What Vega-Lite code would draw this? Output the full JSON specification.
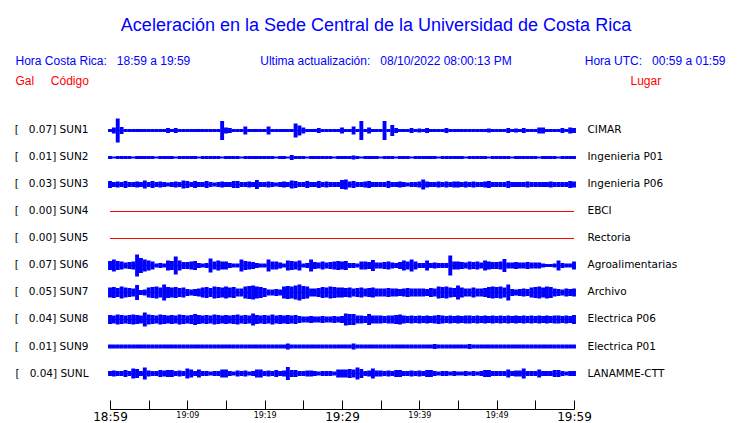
{
  "$schema": "https://vega.github.io/schema/vega-lite/v6.json",
  "width": 464,
  "height": 315,
  "autosize": {"type": "none"},
  "padding": {"left": 110, "top": 94, "right": 166, "bottom": 14},
  "background": "white",
  "config": {"view": {"stroke": null}, "font": "DejaVu Sans", "axis": {"grid": false}},
  "title": {
    "text": "Aceleración en la Sede Central de la Universidad de Costa Rica",
    "subtitle": "\u200b\u00a0\u00a0\u00a0\u00a0\u00a0\u00a0Ultima actualización:\u00a0\u00a0\u00a008/10/2022 08:00:13 PM",
    "anchor": "middle",
    "frame": "group",
    "dx": 34,
    "offset": -13,
    "font": "Liberation Sans",
    "fontSize": 18,
    "fontWeight": "normal",
    "color": "#0000ff",
    "subtitleFont": "Liberation Sans",
    "subtitleFontSize": 12,
    "subtitleColor": "#0000ff",
    "subtitlePadding": 21
  },
  "datasets": {
    "est": [
      {"s": "SUN1", "L": "[\u00a0\u00a0\u00a00.07] SUN1", "P": "CIMAR"},
      {"s": "SUN2", "L": "[\u00a0\u00a0\u00a00.01] SUN2", "P": "Ingenieria P01"},
      {"s": "SUN3", "L": "[\u00a0\u00a0\u00a00.03] SUN3", "P": "Ingenieria P06"},
      {"s": "SUN4", "L": "[\u00a0\u00a0\u00a00.00] SUN4", "P": "EBCI"},
      {"s": "SUN5", "L": "[\u00a0\u00a0\u00a00.00] SUN5", "P": "Rectoria"},
      {"s": "SUN6", "L": "[\u00a0\u00a0\u00a00.07] SUN6", "P": "Agroalimentarias"},
      {"s": "SUN7", "L": "[\u00a0\u00a0\u00a00.05] SUN7", "P": "Archivo"},
      {"s": "SUN8", "L": "[\u00a0\u00a0\u00a00.04] SUN8", "P": "Electrica P06"},
      {"s": "SUN9", "L": "[\u00a0\u00a0\u00a00.01] SUN9", "P": "Electrica P01"},
      {"s": "SUNL", "L": "[\u00a0\u00a0\u00a00.04] SUNL", "P": "LANAMME-CTT"}
    ]
  },
  "data": {
    "values": [
      {"t":0,"SUN1":3,"SUN2":3,"SUN3":7,"SUN6":9,"SUN7":10,"SUN8":9,"SUN9":4,"SUNL":5},
      {"t":0.5,"SUN1":6,"SUN2":2,"SUN3":5,"SUN6":12,"SUN7":11,"SUN8":8,"SUN9":4,"SUNL":6},
      {"t":1,"SUN1":24,"SUN2":3,"SUN3":6,"SUN6":9,"SUN7":9,"SUN8":10,"SUN9":4,"SUNL":5},
      {"t":1.5,"SUN1":7,"SUN2":3,"SUN3":5,"SUN6":8,"SUN7":12,"SUN8":9,"SUN9":4,"SUNL":5},
      {"t":2,"SUN1":3,"SUN2":3,"SUN3":7,"SUN6":6,"SUN7":10,"SUN8":8,"SUN9":4,"SUNL":7},
      {"t":2.5,"SUN1":3,"SUN2":3,"SUN3":5,"SUN6":7,"SUN7":9,"SUN8":9,"SUN9":4,"SUNL":5},
      {"t":3,"SUN1":3,"SUN2":2,"SUN3":5,"SUN6":8,"SUN7":8,"SUN8":10,"SUN9":4,"SUNL":10},
      {"t":3.5,"SUN1":3,"SUN2":3,"SUN3":6,"SUN6":22,"SUN7":15,"SUN8":9,"SUN9":4,"SUNL":9},
      {"t":4,"SUN1":3,"SUN2":3,"SUN3":5,"SUN6":15,"SUN7":5,"SUN8":8,"SUN9":4,"SUNL":5},
      {"t":4.5,"SUN1":3,"SUN2":3,"SUN3":8,"SUN6":12,"SUN7":6,"SUN8":14,"SUN9":4,"SUNL":12},
      {"t":5,"SUN1":3,"SUN2":3,"SUN3":5,"SUN6":10,"SUN7":10,"SUN8":10,"SUN9":4,"SUNL":6},
      {"t":5.5,"SUN1":3,"SUN2":3,"SUN3":7,"SUN6":8,"SUN7":11,"SUN8":9,"SUN9":4,"SUNL":5},
      {"t":6,"SUN1":3,"SUN2":2,"SUN3":5,"SUN6":4,"SUN7":12,"SUN8":8,"SUN9":4,"SUNL":5},
      {"t":6.5,"SUN1":3,"SUN2":3,"SUN3":6,"SUN6":5,"SUN7":10,"SUN8":10,"SUN9":4,"SUNL":7},
      {"t":7,"SUN1":3,"SUN2":3,"SUN3":5,"SUN6":4,"SUN7":16,"SUN8":9,"SUN9":4,"SUNL":6},
      {"t":7.5,"SUN1":5,"SUN2":3,"SUN3":4,"SUN6":10,"SUN7":11,"SUN8":8,"SUN9":4,"SUNL":7},
      {"t":8,"SUN1":3,"SUN2":3,"SUN3":5,"SUN6":9,"SUN7":10,"SUN8":9,"SUN9":4,"SUNL":7},
      {"t":8.5,"SUN1":5,"SUN2":2,"SUN3":6,"SUN6":18,"SUN7":11,"SUN8":8,"SUN9":4,"SUNL":5},
      {"t":9,"SUN1":3,"SUN2":3,"SUN3":5,"SUN6":10,"SUN7":9,"SUN8":10,"SUN9":4,"SUNL":6},
      {"t":9.5,"SUN1":3,"SUN2":3,"SUN3":8,"SUN6":7,"SUN7":10,"SUN8":9,"SUN9":4,"SUNL":5},
      {"t":10,"SUN1":3,"SUN2":3,"SUN3":7,"SUN6":7,"SUN7":7,"SUN8":8,"SUN9":4,"SUNL":10},
      {"t":10.5,"SUN1":3,"SUN2":3,"SUN3":5,"SUN6":8,"SUN7":6,"SUN8":9,"SUN9":4,"SUNL":8},
      {"t":11,"SUN1":3,"SUN2":3,"SUN3":7,"SUN6":9,"SUN7":7,"SUN8":11,"SUN9":4,"SUNL":5},
      {"t":11.5,"SUN1":3,"SUN2":2,"SUN3":5,"SUN6":5,"SUN7":8,"SUN8":9,"SUN9":4,"SUNL":8},
      {"t":12,"SUN1":3,"SUN2":3,"SUN3":5,"SUN6":4,"SUN7":10,"SUN8":8,"SUN9":4,"SUNL":5},
      {"t":12.5,"SUN1":3,"SUN2":3,"SUN3":7,"SUN6":5,"SUN7":11,"SUN8":9,"SUN9":4,"SUNL":5},
      {"t":13,"SUN1":3,"SUN2":3,"SUN3":5,"SUN6":14,"SUN7":9,"SUN8":8,"SUN9":4,"SUNL":4},
      {"t":13.5,"SUN1":3,"SUN2":3,"SUN3":4,"SUN6":8,"SUN7":12,"SUN8":10,"SUN9":4,"SUNL":5},
      {"t":14,"SUN1":3,"SUN2":3,"SUN3":5,"SUN6":10,"SUN7":11,"SUN8":9,"SUN9":4,"SUNL":5},
      {"t":14.5,"SUN1":19,"SUN2":2,"SUN3":6,"SUN6":8,"SUN7":10,"SUN8":8,"SUN9":4,"SUNL":8},
      {"t":15,"SUN1":6,"SUN2":3,"SUN3":5,"SUN6":8,"SUN7":12,"SUN8":9,"SUN9":4,"SUNL":8},
      {"t":15.5,"SUN1":5,"SUN2":3,"SUN3":5,"SUN6":5,"SUN7":10,"SUN8":8,"SUN9":4,"SUNL":5},
      {"t":16,"SUN1":3,"SUN2":3,"SUN3":7,"SUN6":4,"SUN7":11,"SUN8":9,"SUN9":4,"SUNL":4},
      {"t":16.5,"SUN1":3,"SUN2":3,"SUN3":7,"SUN6":4,"SUN7":8,"SUN8":10,"SUN9":4,"SUNL":6},
      {"t":17,"SUN1":3,"SUN2":2,"SUN3":5,"SUN6":12,"SUN7":8,"SUN8":8,"SUN9":4,"SUNL":5},
      {"t":17.5,"SUN1":8,"SUN2":3,"SUN3":5,"SUN6":9,"SUN7":12,"SUN8":9,"SUN9":4,"SUNL":6},
      {"t":18,"SUN1":3,"SUN2":3,"SUN3":6,"SUN6":8,"SUN7":13,"SUN8":8,"SUN9":4,"SUNL":4},
      {"t":18.5,"SUN1":3,"SUN2":3,"SUN3":5,"SUN6":7,"SUN7":14,"SUN8":12,"SUN9":4,"SUNL":5},
      {"t":19,"SUN1":3,"SUN2":3,"SUN3":9,"SUN6":5,"SUN7":12,"SUN8":9,"SUN9":4,"SUNL":8},
      {"t":19.5,"SUN1":3,"SUN2":3,"SUN3":5,"SUN6":4,"SUN7":11,"SUN8":8,"SUN9":4,"SUNL":8},
      {"t":20,"SUN1":3,"SUN2":3,"SUN3":5,"SUN6":4,"SUN7":9,"SUN8":9,"SUN9":4,"SUNL":5},
      {"t":20.5,"SUN1":8,"SUN2":3,"SUN3":6,"SUN6":12,"SUN7":6,"SUN8":8,"SUN9":4,"SUNL":6},
      {"t":21,"SUN1":3,"SUN2":3,"SUN3":5,"SUN6":8,"SUN7":6,"SUN8":10,"SUN9":4,"SUNL":5},
      {"t":21.5,"SUN1":3,"SUN2":2,"SUN3":4,"SUN6":8,"SUN7":7,"SUN8":8,"SUN9":4,"SUNL":7},
      {"t":22,"SUN1":3,"SUN2":3,"SUN3":5,"SUN6":6,"SUN7":6,"SUN8":9,"SUN9":4,"SUNL":5},
      {"t":22.5,"SUN1":3,"SUN2":3,"SUN3":6,"SUN6":4,"SUN7":12,"SUN8":8,"SUN9":4,"SUNL":6},
      {"t":23,"SUN1":3,"SUN2":2,"SUN3":5,"SUN6":10,"SUN7":13,"SUN8":9,"SUN9":6,"SUNL":13},
      {"t":23.5,"SUN1":3,"SUN2":5,"SUN3":8,"SUN6":9,"SUN7":12,"SUN8":8,"SUN9":4,"SUNL":7},
      {"t":24,"SUN1":14,"SUN2":3,"SUN3":7,"SUN6":8,"SUN7":14,"SUN8":9,"SUN9":4,"SUNL":7},
      {"t":24.5,"SUN1":10,"SUN2":3,"SUN3":5,"SUN6":10,"SUN7":16,"SUN8":7,"SUN9":4,"SUNL":5},
      {"t":25,"SUN1":6,"SUN2":3,"SUN3":5,"SUN6":4,"SUN7":13,"SUN8":6,"SUN9":4,"SUNL":5},
      {"t":25.5,"SUN1":3,"SUN2":2,"SUN3":7,"SUN6":5,"SUN7":12,"SUN8":6,"SUN9":4,"SUNL":6},
      {"t":26,"SUN1":3,"SUN2":3,"SUN3":5,"SUN6":12,"SUN7":8,"SUN8":7,"SUN9":4,"SUNL":6},
      {"t":26.5,"SUN1":3,"SUN2":3,"SUN3":5,"SUN6":7,"SUN7":8,"SUN8":6,"SUN9":4,"SUNL":5},
      {"t":27,"SUN1":5,"SUN2":3,"SUN3":7,"SUN6":6,"SUN7":9,"SUN8":6,"SUN9":4,"SUNL":4},
      {"t":27.5,"SUN1":3,"SUN2":3,"SUN3":5,"SUN6":8,"SUN7":11,"SUN8":7,"SUN9":4,"SUNL":5},
      {"t":28,"SUN1":3,"SUN2":3,"SUN3":6,"SUN6":6,"SUN7":10,"SUN8":6,"SUN9":4,"SUNL":5},
      {"t":28.5,"SUN1":3,"SUN2":3,"SUN3":5,"SUN6":7,"SUN7":12,"SUN8":6,"SUN9":4,"SUNL":5},
      {"t":29,"SUN1":3,"SUN2":2,"SUN3":5,"SUN6":8,"SUN7":11,"SUN8":7,"SUN9":4,"SUNL":4},
      {"t":29.5,"SUN1":3,"SUN2":3,"SUN3":5,"SUN6":9,"SUN7":10,"SUN8":6,"SUN9":4,"SUNL":8},
      {"t":30,"SUN1":6,"SUN2":3,"SUN3":9,"SUN6":8,"SUN7":10,"SUN8":7,"SUN9":4,"SUNL":8},
      {"t":30.5,"SUN1":3,"SUN2":3,"SUN3":10,"SUN6":9,"SUN7":9,"SUN8":12,"SUN9":4,"SUNL":8},
      {"t":31,"SUN1":3,"SUN2":3,"SUN3":6,"SUN6":5,"SUN7":10,"SUN8":11,"SUN9":4,"SUNL":9},
      {"t":31.5,"SUN1":8,"SUN2":4,"SUN3":7,"SUN6":5,"SUN7":8,"SUN8":11,"SUN9":6,"SUNL":8},
      {"t":32,"SUN1":3,"SUN2":3,"SUN3":5,"SUN6":4,"SUN7":9,"SUN8":8,"SUN9":4,"SUNL":12},
      {"t":32.5,"SUN1":19,"SUN2":2,"SUN3":5,"SUN6":8,"SUN7":10,"SUN8":8,"SUN9":4,"SUNL":9},
      {"t":33,"SUN1":3,"SUN2":3,"SUN3":6,"SUN6":8,"SUN7":8,"SUN8":7,"SUN9":4,"SUNL":5},
      {"t":33.5,"SUN1":6,"SUN2":3,"SUN3":7,"SUN6":7,"SUN7":9,"SUN8":11,"SUN9":4,"SUNL":6},
      {"t":34,"SUN1":3,"SUN2":3,"SUN3":5,"SUN6":11,"SUN7":10,"SUN8":8,"SUN9":4,"SUNL":10},
      {"t":34.5,"SUN1":3,"SUN2":3,"SUN3":5,"SUN6":6,"SUN7":8,"SUN8":8,"SUN9":4,"SUNL":6},
      {"t":35,"SUN1":3,"SUN2":2,"SUN3":5,"SUN6":6,"SUN7":8,"SUN8":8,"SUN9":4,"SUNL":6},
      {"t":35.5,"SUN1":19,"SUN2":3,"SUN3":5,"SUN6":7,"SUN7":8,"SUN8":7,"SUN9":4,"SUNL":5},
      {"t":36,"SUN1":3,"SUN2":3,"SUN3":7,"SUN6":8,"SUN7":9,"SUN8":8,"SUN9":4,"SUNL":6},
      {"t":36.5,"SUN1":11,"SUN2":3,"SUN3":5,"SUN6":6,"SUN7":8,"SUN8":8,"SUN9":4,"SUNL":5},
      {"t":37,"SUN1":5,"SUN2":2,"SUN3":5,"SUN6":5,"SUN7":8,"SUN8":9,"SUN9":4,"SUNL":7},
      {"t":37.5,"SUN1":3,"SUN2":3,"SUN3":6,"SUN6":7,"SUN7":7,"SUN8":10,"SUN9":4,"SUNL":7},
      {"t":38,"SUN1":3,"SUN2":3,"SUN3":5,"SUN6":10,"SUN7":8,"SUN8":8,"SUN9":4,"SUNL":5},
      {"t":38.5,"SUN1":3,"SUN2":3,"SUN3":4,"SUN6":8,"SUN7":9,"SUN8":7,"SUN9":4,"SUNL":5},
      {"t":39,"SUN1":5,"SUN2":2,"SUN3":5,"SUN6":12,"SUN7":8,"SUN8":8,"SUN9":4,"SUNL":6},
      {"t":39.5,"SUN1":3,"SUN2":3,"SUN3":5,"SUN6":8,"SUN7":8,"SUN8":7,"SUN9":4,"SUNL":5},
      {"t":40,"SUN1":4,"SUN2":3,"SUN3":6,"SUN6":5,"SUN7":8,"SUN8":8,"SUN9":4,"SUNL":6},
      {"t":40.5,"SUN1":3,"SUN2":3,"SUN3":10,"SUN6":5,"SUN7":8,"SUN8":7,"SUN9":4,"SUNL":5},
      {"t":41,"SUN1":5,"SUN2":3,"SUN3":6,"SUN6":10,"SUN7":7,"SUN8":8,"SUN9":4,"SUNL":7},
      {"t":41.5,"SUN1":3,"SUN2":3,"SUN3":5,"SUN6":5,"SUN7":9,"SUN8":7,"SUN9":4,"SUNL":7},
      {"t":42,"SUN1":3,"SUN2":3,"SUN3":5,"SUN6":6,"SUN7":8,"SUN8":8,"SUN9":5,"SUNL":5},
      {"t":42.5,"SUN1":3,"SUN2":2,"SUN3":6,"SUN6":5,"SUN7":12,"SUN8":9,"SUN9":4,"SUNL":4},
      {"t":43,"SUN1":3,"SUN2":3,"SUN3":5,"SUN6":5,"SUN7":11,"SUN8":8,"SUN9":4,"SUNL":5},
      {"t":43.5,"SUN1":5,"SUN2":3,"SUN3":6,"SUN6":5,"SUN7":12,"SUN8":7,"SUN9":4,"SUNL":5},
      {"t":44,"SUN1":3,"SUN2":3,"SUN3":5,"SUN6":20,"SUN7":10,"SUN8":8,"SUN9":4,"SUNL":4},
      {"t":44.5,"SUN1":3,"SUN2":3,"SUN3":6,"SUN6":8,"SUN7":9,"SUN8":7,"SUN9":4,"SUNL":5},
      {"t":45,"SUN1":3,"SUN2":3,"SUN3":6,"SUN6":8,"SUN7":14,"SUN8":8,"SUN9":4,"SUNL":4},
      {"t":45.5,"SUN1":3,"SUN2":3,"SUN3":5,"SUN6":7,"SUN7":10,"SUN8":7,"SUN9":4,"SUNL":4},
      {"t":46,"SUN1":3,"SUN2":2,"SUN3":6,"SUN6":6,"SUN7":8,"SUN8":8,"SUN9":4,"SUNL":5},
      {"t":46.5,"SUN1":3,"SUN2":3,"SUN3":5,"SUN6":8,"SUN7":8,"SUN8":8,"SUN9":5,"SUNL":4},
      {"t":47,"SUN1":3,"SUN2":3,"SUN3":6,"SUN6":7,"SUN7":10,"SUN8":7,"SUN9":4,"SUNL":5},
      {"t":47.5,"SUN1":3,"SUN2":3,"SUN3":5,"SUN6":8,"SUN7":8,"SUN8":8,"SUN9":4,"SUNL":4},
      {"t":48,"SUN1":3,"SUN2":3,"SUN3":5,"SUN6":6,"SUN7":8,"SUN8":7,"SUN9":4,"SUNL":5},
      {"t":48.5,"SUN1":3,"SUN2":3,"SUN3":6,"SUN6":10,"SUN7":9,"SUN8":8,"SUN9":4,"SUNL":7},
      {"t":49,"SUN1":4,"SUN2":2,"SUN3":7,"SUN6":8,"SUN7":11,"SUN8":7,"SUN9":4,"SUNL":7},
      {"t":49.5,"SUN1":3,"SUN2":3,"SUN3":5,"SUN6":7,"SUN7":12,"SUN8":8,"SUN9":4,"SUNL":5},
      {"t":50,"SUN1":3,"SUN2":3,"SUN3":5,"SUN6":7,"SUN7":11,"SUN8":7,"SUN9":4,"SUNL":5},
      {"t":50.5,"SUN1":3,"SUN2":3,"SUN3":5,"SUN6":8,"SUN7":12,"SUN8":8,"SUN9":4,"SUNL":5},
      {"t":51,"SUN1":3,"SUN2":3,"SUN3":5,"SUN6":13,"SUN7":10,"SUN8":7,"SUN9":4,"SUNL":5},
      {"t":51.5,"SUN1":5,"SUN2":3,"SUN3":7,"SUN6":6,"SUN7":16,"SUN8":8,"SUN9":4,"SUNL":8},
      {"t":52,"SUN1":3,"SUN2":2,"SUN3":5,"SUN6":6,"SUN7":7,"SUN8":7,"SUN9":4,"SUNL":5},
      {"t":52.5,"SUN1":4,"SUN2":3,"SUN3":5,"SUN6":7,"SUN7":6,"SUN8":8,"SUN9":4,"SUNL":6},
      {"t":53,"SUN1":3,"SUN2":3,"SUN3":5,"SUN6":6,"SUN7":7,"SUN8":7,"SUN9":4,"SUNL":6},
      {"t":53.5,"SUN1":5,"SUN2":3,"SUN3":5,"SUN6":6,"SUN7":8,"SUN8":8,"SUN9":4,"SUNL":10},
      {"t":54,"SUN1":3,"SUN2":3,"SUN3":6,"SUN6":7,"SUN7":7,"SUN8":7,"SUN9":4,"SUNL":5},
      {"t":54.5,"SUN1":3,"SUN2":3,"SUN3":5,"SUN6":6,"SUN7":10,"SUN8":8,"SUN9":4,"SUNL":5},
      {"t":55,"SUN1":3,"SUN2":3,"SUN3":5,"SUN6":6,"SUN7":11,"SUN8":7,"SUN9":4,"SUNL":5},
      {"t":55.5,"SUN1":6,"SUN2":2,"SUN3":5,"SUN6":6,"SUN7":12,"SUN8":8,"SUN9":4,"SUNL":8},
      {"t":56,"SUN1":6,"SUN2":3,"SUN3":5,"SUN6":4,"SUN7":10,"SUN8":7,"SUN9":4,"SUNL":5},
      {"t":56.5,"SUN1":3,"SUN2":3,"SUN3":5,"SUN6":3,"SUN7":12,"SUN8":8,"SUN9":4,"SUNL":5},
      {"t":57,"SUN1":3,"SUN2":3,"SUN3":6,"SUN6":3,"SUN7":11,"SUN8":7,"SUN9":4,"SUNL":5},
      {"t":57.5,"SUN1":3,"SUN2":3,"SUN3":5,"SUN6":4,"SUN7":8,"SUN8":8,"SUN9":4,"SUNL":7},
      {"t":58,"SUN1":3,"SUN2":2,"SUN3":5,"SUN6":10,"SUN7":7,"SUN8":8,"SUN9":4,"SUNL":7},
      {"t":58.5,"SUN1":5,"SUN2":3,"SUN3":5,"SUN6":5,"SUN7":6,"SUN8":7,"SUN9":4,"SUNL":5},
      {"t":59,"SUN1":3,"SUN2":3,"SUN3":5,"SUN6":4,"SUN7":8,"SUN8":8,"SUN9":4,"SUNL":4},
      {"t":59.5,"SUN1":6,"SUN2":3,"SUN3":7,"SUN6":4,"SUN7":7,"SUN8":7,"SUN9":4,"SUNL":5},
      {"t":60,"SUN1":5,"SUN2":3,"SUN3":6,"SUN6":8,"SUN7":8,"SUN8":9,"SUN9":4,"SUNL":5}
    ]
  },
  "transform": [
    {"fold": ["SUN1","SUN2","SUN3","SUN4","SUN5","SUN6","SUN7","SUN8","SUN9","SUNL"], "as": ["s","a"]},
    {"lookup": "s", "from": {"data": {"name": "est"}, "key": "s", "fields": ["L","P"]}}
  ],
  "layer": [
    {
      "mark": {"type": "rule", "strokeWidth": 1},
      "encoding": {
        "x": {
          "aggregate": "min", "field": "t", "type": "quantitative",
          "scale": {"domain": [0, 60], "nice": false, "zero": false},
          "axis": {
            "orient": "top", "domain": false, "ticks": false, "labels": false, "grid": false,
            "title": "Hora UTC:\u00a0\u00a0\u00a000:59 a 01:59",
            "titleX": 615, "titleY": -30, "titleAlign": "right", "titleAnchor": "end", "titleBaseline": "alphabetic",
            "titleColor": "#0000ff", "titleFont": "Liberation Sans", "titleFontSize": 12, "titleFontWeight": "normal"
          }
        },
        "x2": {"aggregate": "max", "field": "t"},
        "y": {
          "field": "P", "type": "nominal",
          "scale": {"type": "band", "paddingInner": 0, "paddingOuter": 0.8333, "align": 0.5111, "domain": ["CIMAR","Ingenieria P01","Ingenieria P06","EBCI","Rectoria","Agroalimentarias","Archivo","Electrica P06","Electrica P01","LANAMME-CTT"]},
          "axis": {
            "orient": "right", "domain": false, "ticks": false, "tickSize": 0, "labelPadding": 13,
            "labelAlign": "left", "labelBaseline": "middle", "labelFont": "DejaVu Sans", "labelFontSize": 10.5, "labelColor": "#000000",
            "title": "Lugar", "titleX": 56, "titleY": -10, "titleAngle": 0, "titleAlign": "left", "titleBaseline": "alphabetic",
            "titleColor": "#ff0000", "titleFont": "Liberation Sans", "titleFontSize": 12, "titleFontWeight": "normal"
          }
        },
        "color": {
          "field": "s", "type": "nominal", "legend": null,
          "scale": {
            "domain": ["SUN1","SUN2","SUN3","SUN4","SUN5","SUN6","SUN7","SUN8","SUN9","SUNL"],
            "range": ["#0000ff","#0000ff","#0000ff","#ff0000","#ff0000","#0000ff","#0000ff","#0000ff","#0000ff","#0000ff"]
          }
        }
      }
    },
    {
      "transform": [{"filter": "isValid(datum.a)"}],
      "mark": {"type": "tick", "orient": "vertical", "thickness": 3.9, "color": "#0000ff", "opacity": 1},
      "encoding": {
        "x": {
          "field": "t", "type": "quantitative",
          "axis": {
            "orient": "bottom", "values": [0,5,10,15,20,25,30,35,40,45,50,55,60],
            "labelExpr": "datum.value == 0 ? '18:59' : datum.value == 60 ? '19:59' : datum.value % 10 == 0 ? '19:' + (datum.value < 11 ? '0' : '') + (datum.value - 1) : ''",
            "tickSize": -9, "tickColor": "#000000", "tickWidth": 1, "domainColor": "#000000", "domainWidth": 1, "grid": false,
            "labelFont": "DejaVu Sans", "labelColor": "#000000",
            "labelFontSize": {"condition": {"test": "datum.value % 30 == 0", "value": 12}, "value": 8},
            "labelPadding": 11.5, "labelFlush": false, "labelOverlap": false,
            "title": "Hora Costa Rica:\u00a0\u00a0\u00a018:59 a 19:59",
            "titleX": -95, "titleY": -345, "titleAlign": "left", "titleAnchor": "start", "titleBaseline": "alphabetic",
            "titleColor": "#0000ff", "titleFont": "Liberation Sans", "titleFontSize": 12, "titleFontWeight": "normal"
          }
        },
        "y": {
          "field": "L", "type": "nominal",
          "scale": {"type": "band", "paddingInner": 0, "paddingOuter": 0.8333, "align": 0.5111, "domain": ["[\u00a0\u00a0\u00a00.07] SUN1","[\u00a0\u00a0\u00a00.01] SUN2","[\u00a0\u00a0\u00a00.03] SUN3","[\u00a0\u00a0\u00a00.00] SUN4","[\u00a0\u00a0\u00a00.00] SUN5","[\u00a0\u00a0\u00a00.07] SUN6","[\u00a0\u00a0\u00a00.05] SUN7","[\u00a0\u00a0\u00a00.04] SUN8","[\u00a0\u00a0\u00a00.01] SUN9","[\u00a0\u00a0\u00a00.04] SUNL"]},
          "axis": {
            "orient": "left", "domain": false, "ticks": false, "tickSize": 0, "labelPadding": 22,
            "labelAlign": "right", "labelBaseline": "middle", "labelFont": "DejaVu Sans", "labelFontSize": 10.5, "labelColor": "#000000",
            "title": "Gal\u00a0\u00a0\u00a0\u00a0\u00a0Código", "titleX": -95, "titleY": -10, "titleAngle": 0, "titleAlign": "left", "titleBaseline": "alphabetic",
            "titleColor": "#ff0000", "titleFont": "Liberation Sans", "titleFontSize": 12, "titleFontWeight": "normal"
          }
        },
        "size": {"field": "a", "type": "quantitative", "legend": null, "scale": {"domain": [0, 26], "range": [0, 26]}}
      }
    }
  ],
  "resolve": {"scale": {"y": "independent"}, "axis": {"x": "independent", "y": "independent"}}
}
